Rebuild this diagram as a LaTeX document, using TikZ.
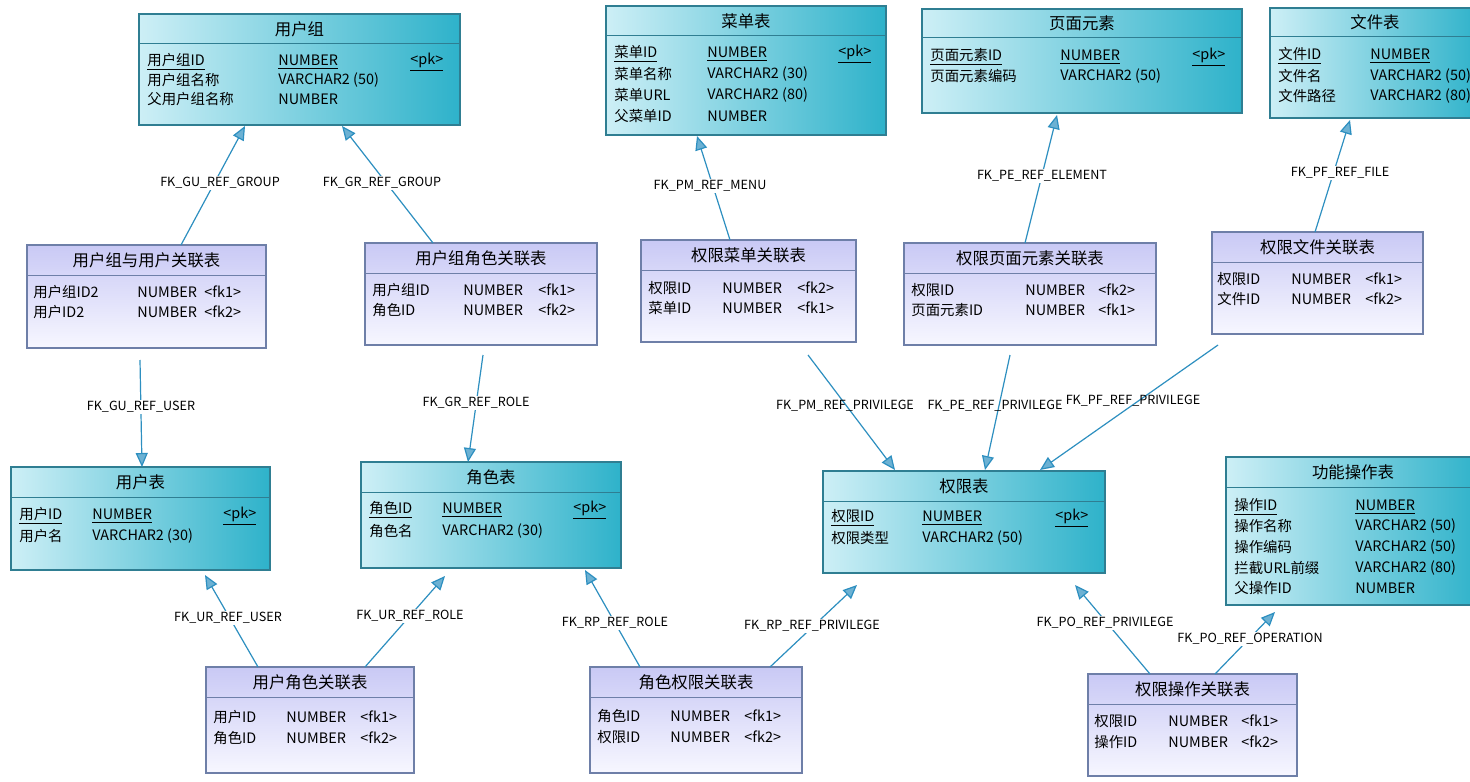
\documentclass[tikz,border=0pt]{standalone}
\usepackage{fontspec}
\setmainfont{Noto Sans CJK SC}
\usetikzlibrary{arrows.meta}
\definecolor{entL}{HTML}{CDEFF6}
\definecolor{entR}{HTML}{2EB2CA}
\definecolor{entB}{HTML}{2F7E92}
\definecolor{lnkT}{HTML}{C9C9F5}
\definecolor{lnkB}{HTML}{F7F7FF}
\definecolor{lnkD}{HTML}{6E7FA8}
\definecolor{fkc}{HTML}{2D8FC0}
\tikzset{
 ent/.style={left color=entL,right color=entR,draw=entB,line width=0.6pt},
 lnk/.style={top color=lnkT,bottom color=lnkB,draw=lnkD,line width=0.6pt},
 entsep/.style={draw=entB,line width=0.5pt},
 lnksep/.style={draw=lnkD,line width=0.5pt},
 ttl/.style={font=\fontsize{8.2}{9}\selectfont,inner sep=0pt},
 cell/.style={font=\fontsize{7.2}{8}\selectfont,anchor=west,inner sep=0pt},
 fk/.style={draw=fkc,line width=0.6pt,-{Triangle[open,length=7pt,width=6pt,fill=fkc!70]}},
 fkl/.style={font=\fontsize{6.3}{7}\selectfont,fill=white,inner sep=0.8pt}
}
% id x1 y1 x2 y2 headerY title style
\newcommand\mytbl[8]{%
 \path[#8] (#2,#3) rectangle (#4,#5);
 \draw[#8sep] (#2,#6) -- (#4,#6);
 \node[ttl] (#1) at ({(#2+#4)/2},{(#3+#6)/2}) {#7};}
\newcommand\rw[7]{% y x1 t1 x2 t2 x3 t3
 \node[cell] at (#2,#1) {#3};
 \node[cell] at (#4,#1) {#5};
 \node[cell] at (#6,#1) {#7};}
\begin{document}
\begin{tikzpicture}[x=0.5pt,y=-0.5pt]
\useasboundingbox[fill=white] (0,0) rectangle (1470,781);
\begin{scope}
\clip (0,0) rectangle (1470,781);
% entities
\mytbl{ug}{139}{14}{460}{125}{44}{用户组}{ent}
\rw{62}{147}{\underline{用户组ID}}{278}{\underline{NUMBER}}{410}{\underline{<pk>}}
\rw{80}{147}{用户组名称}{278}{VARCHAR2 (50)}{410}{}
\rw{99}{147}{父用户组名称}{278}{NUMBER}{410}{}
\mytbl{menu}{606}{6}{886}{135}{36}{菜单表}{ent}
\rw{54}{614}{\underline{菜单ID}}{707}{\underline{NUMBER}}{838}{\underline{<pk>}}
\rw{74}{614}{菜单名称}{707}{VARCHAR2 (30)}{838}{}
\rw{95}{614}{菜单URL}{707}{VARCHAR2 (80)}{838}{}
\rw{116}{614}{父菜单ID}{707}{NUMBER}{838}{}
\mytbl{pe}{922}{9}{1242}{113}{38}{页面元素}{ent}
\rw{57}{930}{\underline{页面元素ID}}{1060}{\underline{NUMBER}}{1192}{\underline{<pk>}}
\rw{76}{930}{页面元素编码}{1060}{VARCHAR2 (50)}{1192}{}
\mytbl{file}{1270}{8}{1480}{118}{37}{文件表}{ent}
\rw{56}{1278}{\underline{文件ID}}{1370}{\underline{NUMBER}}{1470}{}
\rw{76}{1278}{文件名}{1370}{VARCHAR2 (50)}{1470}{}
\rw{96}{1278}{文件路径}{1370}{VARCHAR2 (80)}{1470}{}
\mytbl{user}{11}{467}{270}{570}{497}{用户表}{ent}
\rw{516}{19}{\underline{用户ID}}{92}{\underline{NUMBER}}{223}{\underline{<pk>}}
\rw{536}{19}{用户名}{92}{VARCHAR2 (30)}{223}{}
\mytbl{role}{361}{462}{621}{568}{492}{角色表}{ent}
\rw{510}{369}{\underline{角色ID}}{442}{\underline{NUMBER}}{573}{\underline{<pk>}}
\rw{531}{369}{角色名}{442}{VARCHAR2 (30)}{573}{}
\mytbl{priv}{823}{471}{1105}{573}{501}{权限表}{ent}
\rw{518}{831}{\underline{权限ID}}{922}{\underline{NUMBER}}{1055}{\underline{<pk>}}
\rw{538}{831}{权限类型}{922}{VARCHAR2 (50)}{1055}{}
\mytbl{op}{1226}{457}{1480}{605}{487}{功能操作表}{ent}
\rw{507}{1234}{\underline{操作ID}}{1355}{\underline{NUMBER}}{1470}{}
\rw{526}{1234}{操作名称}{1355}{VARCHAR2 (50)}{1470}{}
\rw{547}{1234}{操作编码}{1355}{VARCHAR2 (50)}{1470}{}
\rw{568}{1234}{拦截URL前缀}{1355}{VARCHAR2 (80)}{1470}{}
\rw{588}{1234}{父操作ID}{1355}{NUMBER}{1470}{}
% link tables
\mytbl{gu}{27}{245}{266}{348}{275}{用户组与用户关联表}{lnk}
\rw{292}{33}{用户组ID2}{137}{NUMBER}{204}{<fk1>}
\rw{312}{33}{用户ID2}{137}{NUMBER}{204}{<fk2>}
\mytbl{gr}{365}{243}{597}{345}{273}{用户组角色关联表}{lnk}
\rw{290}{372}{用户组ID}{463}{NUMBER}{538}{<fk1>}
\rw{310}{372}{角色ID}{463}{NUMBER}{538}{<fk2>}
\mytbl{pm}{641}{240}{856}{342}{270}{权限菜单关联表}{lnk}
\rw{288}{648}{权限ID}{722}{NUMBER}{797}{<fk2>}
\rw{308}{648}{菜单ID}{722}{NUMBER}{797}{<fk1>}
\mytbl{ppe}{904}{243}{1156}{345}{273}{权限页面元素关联表}{lnk}
\rw{290}{911}{权限ID}{1025}{NUMBER}{1098}{<fk2>}
\rw{310}{911}{页面元素ID}{1025}{NUMBER}{1098}{<fk1>}
\mytbl{pf}{1212}{232}{1423}{334}{262}{权限文件关联表}{lnk}
\rw{279}{1217}{权限ID}{1291}{NUMBER}{1365}{<fk1>}
\rw{299}{1217}{文件ID}{1291}{NUMBER}{1365}{<fk2>}
\mytbl{ur}{206}{667}{414}{773}{697}{用户角色关联表}{lnk}
\rw{717}{213}{用户ID}{286}{NUMBER}{360}{<fk1>}
\rw{738}{213}{角色ID}{286}{NUMBER}{360}{<fk2>}
\mytbl{rp}{590}{667}{802}{773}{697}{角色权限关联表}{lnk}
\rw{716}{597}{角色ID}{670}{NUMBER}{744}{<fk1>}
\rw{737}{597}{权限ID}{670}{NUMBER}{744}{<fk2>}
\mytbl{po}{1088}{674}{1297}{776}{704}{权限操作关联表}{lnk}
\rw{721}{1094}{权限ID}{1168}{NUMBER}{1241}{<fk1>}
\rw{742}{1094}{操作ID}{1168}{NUMBER}{1241}{<fk2>}
% connector end points
\foreach \n/\x/\y in {a1/181/245,a2/245/126, b1/433/243,b2/342/126, c1/140/360,c2/142/467,
 d1/483/355,d2/468/462, e1/258/667,e2/205/575, f1/365/667,f2/445/576, g1/640/667,g2/585/570,
 h1/770/667,h2/857/585, i1/730/240,i2/697/136, j1/808/355,j2/895/470, k1/1010/355,k2/985/470,
 l1/1218/345,l2/1040/470, m1/1025/243,m2/1057/115, n1/1315/232,n2/1350/120,
 o1/1150/674,o2/1075/585, p1/1215/674,p2/1275/612}
 {\coordinate (\n) at (\x,\y);}
\foreach \s in {a,b,c,d,e,f,g,h,i,j,k,l,m,n,o,p} {\draw[fk] (\s1) -- (\s2);}
% labels
\node[fkl] (la) at (220,183) {FK\_GU\_REF\_GROUP};
\node[fkl] (lb) at (382,183) {FK\_GR\_REF\_GROUP};
\node[fkl] (lc) at (141,407) {FK\_GU\_REF\_USER};
\node[fkl] (ld) at (476,403) {FK\_GR\_REF\_ROLE};
\node[fkl] (le) at (228,618) {FK\_UR\_REF\_USER};
\node[fkl] (lf) at (410,616) {FK\_UR\_REF\_ROLE};
\node[fkl] (lg) at (615,623) {FK\_RP\_REF\_ROLE};
\node[fkl] (lh) at (812,626) {FK\_RP\_REF\_PRIVILEGE};
\node[fkl] (li) at (710,186) {FK\_PM\_REF\_MENU};
\node[fkl] (lm) at (1042,176) {FK\_PE\_REF\_ELEMENT};
\node[fkl] (ln) at (1340,173) {FK\_PF\_REF\_FILE};
\node[fkl,fill=none] (lj) at (845,406) {FK\_PM\_REF\_PRIVILEGE};
\node[fkl,fill=none] (lk) at (995,406) {FK\_PE\_REF\_PRIVILEGE};
\node[fkl,fill=none] (ll) at (1133,401) {FK\_PF\_REF\_PRIVILEGE};
\node[fkl] (lo) at (1105,623) {FK\_PO\_REF\_PRIVILEGE};
\node[fkl] (lp) at (1250,639) {FK\_PO\_REF\_OPERATION};
\end{scope}
\end{tikzpicture}
\end{document}
